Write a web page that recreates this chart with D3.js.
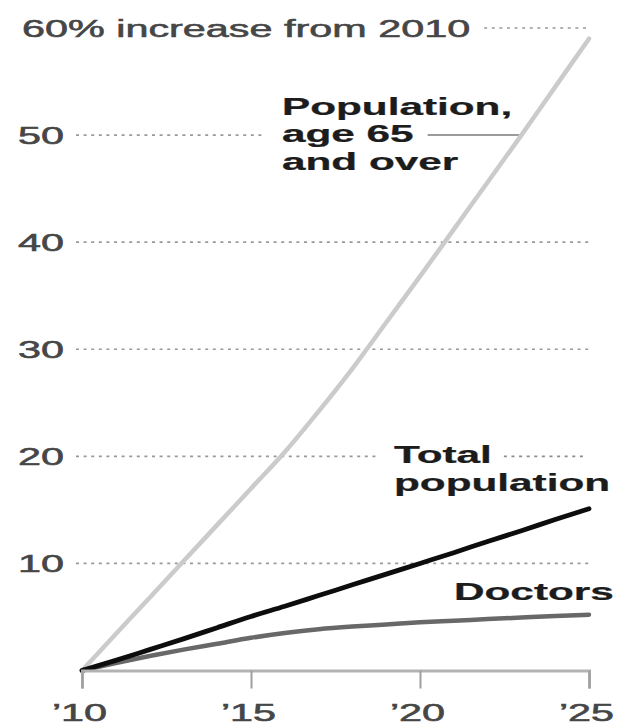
<!DOCTYPE html>
<html>
<head>
<meta charset="utf-8">
<script src="https://cdn.jsdelivr.net/npm/d3@7"></script>
<style>
  html, body { margin: 0; padding: 0; background: #fff; }
  svg { display: block; }
</style>
</head>
<body>
<div id="chart"></div>
<script>
// Percent increase since 2010, by year
const years    = [2010, 2011, 2012, 2013, 2014, 2015, 2016, 2017, 2018, 2019, 2020, 2021, 2022, 2023, 2024, 2025];
const pop65    = [0, 3.4, 6.8, 10.2, 13.6, 17.0, 20.4, 24.2, 28.2, 32.5, 36.8, 41.2, 45.6, 50.0, 54.5, 59.0];
const totalPop = [0, 0.95, 1.95, 2.95, 4.0, 5.05, 6.0, 7.0, 8.0, 9.0, 10.0, 11.0, 12.05, 13.05, 14.1, 15.1];
const doctors  = [0, 0.7, 1.35, 1.95, 2.5, 3.05, 3.5, 3.85, 4.1, 4.3, 4.5, 4.65, 4.8, 4.95, 5.1, 5.2];

const xTicks = [2010, 2015, 2020, 2025];
const yTicks = [10, 20, 30, 40, 50];
const yTopTick = 60;
const yTopLabel = "60% increase from 2010";

const seriesLabels = {
  pop65: ["Population,", "age 65", "and over"],
  total: ["Total", "population"],
  doctors: ["Doctors"]
};

const W = 625, H = 728;
const SX = 1.76;          // wide type: glyphs are drawn stretched horizontally
const FONT = "'Liberation Sans', Arial, Helvetica, sans-serif";
const FS = 23.5;

const svg = d3.select("#chart").append("svg")
  .attr("width", W).attr("height", H);

const x = d3.scaleLinear().domain([2010, 2025]).range([82, 589]);
const y = d3.scaleLinear().domain([0, 60]).range([670.5, 28]);

const gridG = svg.append("g");
const lineG = svg.append("g");
const labelG = svg.append("g");

// stretched text helper; returns the element plus its drawn left/right extent
function stretchedText(g, str, px, py, anchor, opts) {
  const sx = opts.sx || SX;
  const fill = opts.fill || "#464646";
  const t = g.append("text")
    .attr("transform", `translate(${px},${py}) scale(${sx},1)`)
    .attr("text-anchor", anchor)
    .attr("font-family", FONT)
    .attr("font-size", FS)
    .attr("font-weight", opts.weight || "normal")
    .attr("fill", fill)
    .attr("stroke", fill)
    .attr("stroke-width", opts.weight === "bold" ? 0.25 : 0.55)
    .text(str);
  const w = t.node().getComputedTextLength() * sx;
  const left = anchor === "end" ? px - w : anchor === "middle" ? px - w / 2 : px;
  return { t, left, right: left + w, width: w };
}

// series labels (bold, dark)
const bold = { weight: "bold", fill: "#1c1c1c", sx: 1.8 };
function blockLabel(lines, left, firstBaseline, lead) {
  return lines.map((s, i) =>
    stretchedText(labelG, s, left, firstBaseline + i * lead, "start", bold));
}

// Population 65+ label, middle line on the 50 rule
const popTexts = blockLabel(seriesLabels.pop65, 282, y(50) - 20.5, 27.5);
// Total population label, first line on the 20 rule
const totTexts = blockLabel(seriesLabels.total, 394, y(20) + 6.5, 28.5);
// Doctors label, above the end of its line
blockLabel(seriesLabels.doctors, 454, y(doctors[doctors.length - 1]) - 14.5, 0);

const gridX0 = 76, gridX1 = 590;
const dash = "3,4.6";
const gridColor = "#999";

function rule(g, v, x0, x1, color) {
  g.append("line")
    .attr("x1", x0).attr("x2", x1)
    .attr("y1", y(v)).attr("y2", y(v))
    .attr("stroke", color || gridColor).attr("stroke-width", 1.7)
    .attr("stroke-dasharray", dash);
}

const ageLine = popTexts[1];
const totalLine = totTexts[0];

// horizontal dotted gridlines with left labels;
// the 50 rule stops before the 65+ label, the 20 rule breaks around "Total"
yTicks.forEach(v => {
  if (v === 50) {
    rule(gridG, v, gridX0, ageLine.left - 20);
  } else if (v === 20) {
    rule(gridG, v, gridX0, totalLine.left - 16);
    rule(labelG, v, totalLine.right + 12, gridX1 - 6, "#8c8c8c");
  } else {
    rule(gridG, v, gridX0, gridX1);
  }
  stretchedText(labelG, v, 64, y(v) + 8.5, "end", {});
});

// top tick: label sentence followed by the dotted rule
const topText = stretchedText(labelG, yTopLabel, 22, y(yTopTick) + 8.5, "start", {});
rule(gridG, yTopTick, topText.right + 14, gridX1);

// x axis
const xAxis = d3.axisBottom(x)
  .tickValues(xTicks)
  .tickSize(18)
  .tickPadding(16)
  .tickFormat(d => "\u2019" + String(d).slice(2));
const axG = svg.append("g")
  .attr("transform", `translate(0,${y(0)})`)
  .call(xAxis);
axG.select(".domain").attr("stroke", "#b3b3b3").attr("stroke-width", 3);
axG.selectAll(".tick line").attr("stroke", "#9f9f9f").attr("stroke-width", 2);
axG.selectAll(".tick text")
  .attr("font-family", FONT).attr("font-size", FS)
  .attr("fill", "#464646").attr("stroke", "#464646").attr("stroke-width", 0.55)
  .attr("transform", `translate(-3,0) scale(${SX},1)`);

// leader from "age 65" to the 65+ line where it reaches 50
const i50 = pop65.findIndex(v => v >= 50);
const t50 = (50 - pop65[i50 - 1]) / (pop65[i50] - pop65[i50 - 1]);
const year50 = years[i50 - 1] + t50 * (years[i50] - years[i50 - 1]);
gridG.append("line")
  .attr("x1", ageLine.right + 14).attr("x2", x(year50))
  .attr("y1", y(50)).attr("y2", y(50))
  .attr("stroke", "#7a7a7a").attr("stroke-width", 1.5);

// lines
const line = d3.line()
  .x((d, i) => x(years[i]))
  .y(d => y(d))
  .curve(d3.curveMonotoneX);

lineG.append("path").datum(pop65)
  .attr("d", line).attr("fill", "none")
  .attr("stroke", "#cbcbcb").attr("stroke-width", 4.5).attr("stroke-linecap", "round");
lineG.append("path").datum(doctors)
  .attr("d", line).attr("fill", "none")
  .attr("stroke", "#686868").attr("stroke-width", 4.5).attr("stroke-linecap", "round");
lineG.append("path").datum(totalPop)
  .attr("d", line).attr("fill", "none")
  .attr("stroke", "#0d0d0d").attr("stroke-width", 4.8).attr("stroke-linecap", "round");
</script>
</body>
</html>
